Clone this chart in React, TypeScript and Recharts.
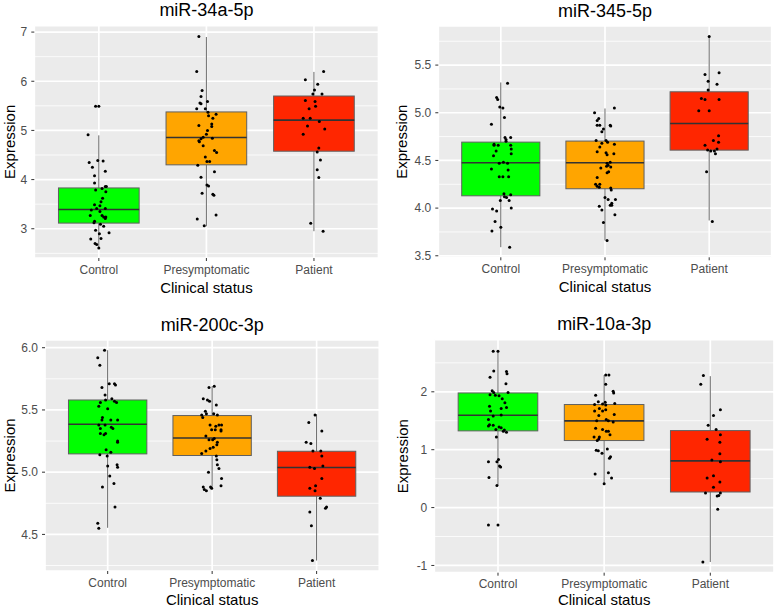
import React from 'react'
import { ComposedChart, Bar, Scatter, XAxis, YAxis, CartesianGrid } from 'recharts'

const categories = ['Control', 'Presymptomatic', 'Patient']
const boxFills = ['#00FF00', '#FFA500', '#FF2600']

// box stats per group: [lower whisker, Q1, median, Q3, upper whisker]
const mir34aBox = [
  [2.61, 3.115, 3.39, 3.83, 4.9],
  [3.05, 4.3, 4.855, 5.376, 6.9],
  [2.95, 4.577, 5.21, 5.7, 6.19],
]
const mir345Box = [
  [3.59, 4.129, 4.475, 4.692, 5.318],
  [3.661, 4.203, 4.475, 4.703, 5.045],
  [3.87, 4.608, 4.888, 5.22, 5.8],
]
const mir200cBox = [
  [4.553, 5.147, 5.385, 5.58, 5.98],
  [4.86, 5.134, 5.275, 5.455, 5.69],
  [4.29, 4.807, 5.037, 5.168, 5.465],
]
const mir10aBox = [
  [0.38, 1.325, 1.596, 1.98, 2.72],
  [0.41, 1.158, 1.498, 1.78, 2.29],
  [-0.94, 0.269, 0.806, 1.33, 2.27],
]

// jittered samples: [horizontal jitter (category units), expression]
const mir34aControl = [
  [-0.03, 5.49], [0, 5.49], [-0.1, 4.91], [-0.09, 4.35], [-0.01, 4.39], [0.04, 4.38], [-0.06, 4.25],
  [0.06, 4.17], [-0.04, 4.08], [-0.04, 3.93], [0.06, 3.86], [0.07, 3.86], [0.03, 3.82], [-0.03, 3.79],
  [0.065, 3.75], [0.035, 3.62], [0.02, 3.55], [-0.04, 3.49], [0.01, 3.47], [-0.02, 3.41], [0.06, 3.41],
  [-0.07, 3.38], [0.01, 3.35], [-0.08, 3.27], [0.03, 3.27], [0.045, 3.24], [0.065, 3.24], [0.06, 3.21],
  [-0.04, 3.15], [-0.045, 3.12], [0.015, 3.09], [0.045, 3.05], [-0.03, 2.97], [0.005, 2.9], [0.095, 2.92],
  [0.02, 2.8], [-0.075, 2.79], [-0.035, 2.7], [-0.02, 2.68], [0, 2.61],
]
const mir34aPresymptomatic = [
  [-0.07, 6.91], [-0.09, 6.2], [-0.04, 5.81], [-0.05, 5.69], [0.01, 5.59], [-0.06, 5.56], [-0.05, 5.54],
  [-0.09, 5.44], [-0.01, 5.44], [0.015, 5.37], [0.09, 5.33], [0.02, 5.3], [0.06, 5.25], [-0.07, 5.1],
  [0.05, 5.13], [0.05, 5.08], [0.01, 5.0], [0, 4.92], [-0.03, 4.86], [-0.05, 4.83], [0.055, 4.84],
  [-0.07, 4.79], [-0.065, 4.77], [-0.03, 4.69], [0.075, 4.59], [0.095, 4.55], [-0.01, 4.46], [0.005, 4.37],
  [0.03, 4.37], [-0.08, 4.29], [0.075, 4.16], [-0.05, 4.05], [0.005, 3.89], [0.02, 3.87], [-0.04, 3.72],
  [0.06, 3.7], [0.07, 3.68], [0.09, 3.28], [-0.085, 3.2], [-0.02, 3.06],
]
const mir34aPatient = [
  [0.09, 6.2], [-0.08, 6.03], [0.035, 5.94], [0.005, 5.82], [-0.01, 5.74], [0.075, 5.74], [-0.08, 5.61],
  [0.01, 5.59], [-0.045, 5.44], [0.015, 5.49], [-0.1, 5.25], [-0.035, 5.25], [0.05, 5.18], [0.1, 5.03],
  [-0.06, 5.09], [-0.1, 4.92], [0.045, 4.64], [0.03, 4.56], [0.06, 4.4], [0.03, 4.2], [0.045, 4.04],
  [-0.03, 3.11], [0.085, 2.95],
]

const mir345Control = [
  [0.065, 5.31], [-0.04, 5.16], [-0.03, 5.14], [-0.01, 5.06], [0.02, 5.05], [0.035, 4.95], [-0.09, 4.88],
  [0.04, 4.74], [0.05, 4.72], [0.095, 4.74], [0.05, 4.7], [-0.065, 4.67], [-0.065, 4.66], [-0.025, 4.66],
  [0.095, 4.66], [-0.045, 4.6], [0.1, 4.62], [0.1, 4.57], [-0.07, 4.55], [-0.015, 4.47], [0.025, 4.48],
  [0.065, 4.47], [-0.09, 4.41], [0.07, 4.4], [-0.015, 4.33], [0.02, 4.33], [0.075, 4.33], [0.03, 4.15],
  [0.095, 4.14], [0.035, 4.12], [0.055, 4.11], [0.08, 4.08], [-0.005, 4.08], [-0.08, 3.99], [-0.04, 3.97],
  [0.1, 4.0], [-0.055, 3.86], [0, 3.8], [-0.085, 3.76], [0.085, 3.59],
]
const mir345Presymptomatic = [
  [-0.1, 5.0], [0.09, 5.05], [-0.06, 4.94], [-0.075, 4.92], [-0.075, 4.87], [-0.05, 4.87], [0.05, 4.87],
  [0.055, 4.86], [-0.015, 4.83], [-0.03, 4.8], [-0.085, 4.71], [0.01, 4.71], [-0.03, 4.68], [0.025, 4.69],
  [0.09, 4.67], [-0.05, 4.64], [-0.075, 4.59], [0.01, 4.58], [0.085, 4.57], [0.02, 4.56], [0.05, 4.48],
  [0.02, 4.47], [0.03, 4.45], [0.015, 4.44], [-0.04, 4.42], [0.055, 4.43], [0.035, 4.38], [0.02, 4.37],
  [-0.075, 4.32], [-0.09, 4.25], [-0.075, 4.23], [-0.055, 4.22], [-0.05, 4.25], [0.055, 4.21], [0.06, 4.19],
  [0, 4.11], [0.03, 4.09], [0.1, 4.09], [0.065, 4.05], [0.05, 4.03], [0.065, 4.03], [-0.055, 4.02],
  [-0.03, 3.98], [0.095, 3.93], [-0.015, 3.85], [0.02, 3.66],
]
const mir345Patient = [
  [0, 5.8], [-0.04, 5.4], [0.095, 5.42], [-0.01, 5.33], [0.075, 5.3], [-0.01, 5.24], [-0.075, 5.15],
  [-0.04, 5.14], [0.095, 5.14], [-0.1, 5.02], [0, 5.02], [0.09, 4.76], [0.04, 4.71], [0.09, 4.69],
  [-0.04, 4.66], [-0.015, 4.61], [0.015, 4.6], [0.05, 4.6], [0.075, 4.62], [0.06, 4.57], [-0.025, 4.38],
  [0.03, 3.86],
]

const mir200cControl = [
  [-0.03, 5.98], [-0.095, 5.92], [-0.075, 5.86], [-0.055, 5.68], [0.015, 5.71], [0.065, 5.71], [0.075, 5.7],
  [-0.025, 5.62], [-0.07, 5.56], [-0.02, 5.58], [0.04, 5.59], [0.065, 5.57], [0.085, 5.56], [-0.085, 5.53],
  [0, 5.51], [-0.05, 5.44], [-0.055, 5.42], [0.03, 5.42], [0.095, 5.42], [-0.085, 5.38], [-0.025, 5.38],
  [-0.07, 5.35], [0.035, 5.36], [0.05, 5.35], [-0.07, 5.31], [-0.035, 5.3], [-0.02, 5.31], [0.095, 5.25],
  [0.095, 5.24], [-0.015, 5.18], [0.03, 5.16], [-0.005, 5.13], [-0.075, 5.14], [0, 5.05], [0.09, 5.06],
  [0.095, 5.04], [0.02, 4.97], [0.06, 4.91], [-0.05, 4.88], [0.07, 4.72], [-0.095, 4.59], [-0.085, 4.55],
]
const mir200cPresymptomatic = [
  [-0.03, 5.68], [0.02, 5.69], [-0.085, 5.59], [-0.045, 5.58], [-0.025, 5.57], [0.04, 5.54], [-0.065, 5.49],
  [-0.1, 5.46], [-0.055, 5.47], [0.015, 5.47], [0.05, 5.46], [-0.09, 5.44], [-0.02, 5.38], [0.065, 5.38],
  [0.09, 5.38], [0.035, 5.37], [-0.005, 5.34], [0.03, 5.34], [0.085, 5.34], [0.085, 5.33], [-0.06, 5.29],
  [0.02, 5.27], [0.005, 5.26], [-0.03, 5.26], [0.05, 5.24], [0.045, 5.22], [0.01, 5.2], [-0.02, 5.19],
  [-0.06, 5.17], [-0.1, 5.15], [0.04, 5.13], [0.045, 5.1], [0.05, 5.06], [0.065, 5.03], [-0.035, 5.0],
  [0.09, 4.95], [0.085, 4.89], [-0.085, 4.88], [-0.015, 4.88], [-0.005, 4.87], [-0.075, 4.86], [-0.055, 4.85],
]
const mir200cPatient = [
  [-0.015, 5.46], [-0.075, 5.4], [0.05, 5.33], [-0.1, 5.24], [-0.055, 5.23], [-0.035, 5.17], [0.04, 5.17],
  [0.05, 5.13], [-0.065, 5.04], [-0.02, 5.03], [0.06, 5.05], [0.05, 4.95], [-0.01, 4.89], [-0.065, 4.87],
  [-0.015, 4.85], [0.035, 4.79], [0.095, 4.72], [0.085, 4.71], [-0.065, 4.68], [-0.05, 4.57], [-0.04, 4.29],
]

const mir10aControl = [
  [-0.045, 2.7], [0, 2.7], [-0.04, 2.36], [0.08, 2.35], [0.085, 2.31], [-0.075, 2.25], [0.075, 2.14],
  [-0.055, 2.02], [-0.04, 1.99], [0.095, 1.99], [-0.075, 1.95], [-0.025, 1.94], [0.01, 1.93], [0.04, 1.88],
  [0.065, 1.81], [-0.08, 1.75], [0.08, 1.73], [0.03, 1.71], [-0.07, 1.67], [-0.045, 1.58], [0.03, 1.6],
  [-0.09, 1.52], [-0.08, 1.43], [-0.045, 1.42], [-0.09, 1.41], [0.01, 1.39], [0.03, 1.38], [-0.02, 1.35],
  [0.06, 1.34], [0.05, 1.32], [0.08, 1.3], [-0.015, 1.22], [-0.09, 0.79], [0.005, 0.83], [-0.01, 0.79],
  [0.015, 0.72], [0.025, 0.7], [-0.085, 0.52], [-0.01, 0.38], [-0.09, -0.3], [0, -0.3],
]
const mir10aPresymptomatic = [
  [0.015, 2.29], [0.045, 2.29], [0.015, 2.13], [0.085, 2.01], [0.09, 1.98], [-0.08, 1.94], [-0.055, 1.83],
  [-0.09, 1.78], [-0.015, 1.79], [0.01, 1.82], [0.015, 1.77], [0.1, 1.8], [-0.045, 1.71], [-0.015, 1.67],
  [0.015, 1.69], [-0.09, 1.67], [-0.05, 1.59], [0.095, 1.61], [0.02, 1.52], [0.04, 1.5], [0.085, 1.48],
  [-0.07, 1.5], [-0.08, 1.37], [-0.015, 1.35], [0.02, 1.32], [0.04, 1.32], [0.055, 1.26], [-0.095, 1.22],
  [-0.045, 1.22], [-0.065, 1.16], [-0.05, 1.19], [-0.075, 0.99], [-0.055, 0.98], [0.03, 1.01], [-0.02, 0.94],
  [0.06, 0.88], [0.05, 0.85], [-0.085, 0.58], [0.04, 0.6], [0.07, 0.51], [0, 0.41],
]
const mir10aPatient = [
  [-0.065, 2.28], [-0.09, 2.13], [0.095, 1.69], [0.03, 1.59], [-0.02, 1.42], [0.055, 1.35], [0.095, 1.26],
  [-0.03, 1.18], [0.09, 1.13], [0.09, 0.93], [0.015, 0.82], [0.095, 0.79], [0.03, 0.55], [-0.03, 0.51],
  [0.09, 0.44], [0.03, 0.35], [-0.045, 0.25], [0.095, 0.25], [0.08, 0.21], [0.065, 0.2], [0.07, -0.03],
  [-0.07, -0.94],
]

const panels = [
  {
    title: 'miR-34a-5p',
    box: mir34aBox,
    points: [mir34aControl, mir34aPresymptomatic, mir34aPatient],
    yDomain: [2.405, 7.13],
    yTicks: [3, 4, 5, 6, 7],
    yMinor: [2.5, 3.5, 4.5, 5.5, 6.5],
    digits: 0,
    frame: { x: 0, y: 0, w: 390, h: 305 },
    plot: { l: 34.3, r: 378.5, t: 25.7, b: 258 },
    yTitleX: 14.5,
  },
  {
    title: 'miR-345-5p',
    box: mir345Box,
    points: [mir345Control, mir345Presymptomatic, mir345Patient],
    yDomain: [3.484, 5.91],
    yTicks: [3.5, 4, 4.5, 5, 5.5],
    yMinor: [3.75, 4.25, 4.75, 5.25, 5.75],
    digits: 1,
    frame: { x: 390, y: 0, w: 386, h: 305 },
    plot: { l: 438.3, r: 771.7, t: 26, b: 257.3 },
    yTitleX: 406.5,
  },
  {
    title: 'miR-200c-3p',
    box: mir200cBox,
    points: [mir200cControl, mir200cPresymptomatic, mir200cPatient],
    yDomain: [4.206, 6.062],
    yTicks: [4.5, 5, 5.5, 6],
    yMinor: [4.25, 4.75, 5.25, 5.75],
    digits: 1,
    frame: { x: 0, y: 305, w: 390, h: 304 },
    plot: { l: 45, r: 379.3, t: 340, b: 571 },
    yTitleX: 14.5,
  },
  {
    title: 'miR-10a-3p',
    box: mir10aBox,
    points: [mir10aControl, mir10aPresymptomatic, mir10aPatient],
    yDomain: [-1.125, 2.9],
    yTicks: [-1, 0, 1, 2],
    yMinor: [-0.5, 0.5, 1.5, 2.5],
    digits: 0,
    frame: { x: 390, y: 305, w: 386, h: 304 },
    plot: { l: 434.3, r: 774, t: 339.7, b: 572.7 },
    yTitleX: 408,
  },
]

const FONT = '"Liberation Sans", Arial, Helvetica, sans-serif'
const Y_AXIS_W = 30
const X_AXIS_H = 25

// draws whisker, box and median inside the [low, high] range bar that recharts positions
function BoxShape(props: any) {
  const { x, y, width, height, payload, boxWidth } = props
  const top = Math.min(y, y + height)
  const bottom = Math.max(y, y + height)
  const span = payload.high - payload.low
  const toY = (v: number) => bottom - ((v - payload.low) / span) * (bottom - top)
  const cx = x + (width || 0) / 2
  const left = cx - boxWidth / 2
  const yq3 = toY(payload.q3)
  const yq1 = toY(payload.q1)
  const ymed = toY(payload.median)
  return (
    <g>
      <line x1={cx} x2={cx} y1={top} y2={bottom} stroke="#666" strokeWidth={1} />
      <rect x={left} y={yq3} width={boxWidth} height={yq1 - yq3} fill={payload.fill} stroke="#606060" strokeWidth={1} />
      <line x1={left} x2={left + boxWidth} y1={ymed} y2={ymed} stroke="#333" strokeWidth={1.6} />
    </g>
  )
}

const Dot = (props: any) => <circle cx={props.cx} cy={props.cy} r={1.5} fill="#000" />

function Panel({ p }: { p: (typeof panels)[number] }) {
  const { frame, plot } = p
  const boxData = categories.map((name, i) => ({
    x: i + 1,
    name,
    low: p.box[i][0],
    q1: p.box[i][1],
    median: p.box[i][2],
    q3: p.box[i][3],
    high: p.box[i][4],
    fill: boxFills[i],
  }))
  const pointData = p.points.flatMap((group, i) => group.map(([dx, v]) => ({ x: i + 1 + dx, y: v })))
  const boxWidth = (0.75 * (plot.r - plot.l)) / 3.2
  const margin = {
    top: plot.t - frame.y,
    left: plot.l - frame.x - Y_AXIS_W,
    right: frame.x + frame.w - plot.r,
    bottom: frame.y + frame.h - plot.b - X_AXIS_H,
  }
  return (
    <div style={{ position: 'absolute', left: frame.x, top: frame.y }}>
      <ComposedChart width={frame.w} height={frame.h} data={boxData} margin={margin}>
        <CartesianGrid fill="#EBEBEB" stroke="#fff" strokeWidth={1.7} />
        <CartesianGrid vertical={false} horizontalValues={p.yMinor} stroke="#fff" strokeWidth={0.8} />
        <XAxis
          dataKey="x"
          type="number"
          domain={[0.4, 3.6]}
          ticks={[1, 2, 3]}
          allowDataOverflow
          interval={0}
          height={X_AXIS_H}
          axisLine={false}
          tickLine={{ stroke: '#333' }}
          tickSize={3}
          tickMargin={4}
          tick={{ fill: '#4D4D4D', fontSize: 12, fontFamily: FONT }}
          tickFormatter={(v: number) => categories[v - 1]}
        />
        <YAxis
          type="number"
          domain={p.yDomain}
          ticks={p.yTicks}
          allowDataOverflow
          interval={0}
          width={Y_AXIS_W}
          axisLine={false}
          tickLine={{ stroke: '#333' }}
          tickSize={3}
          tickMargin={4}
          tick={{ fill: '#4D4D4D', fontSize: 12, fontFamily: FONT }}
          tickFormatter={(v: number) => v.toFixed(p.digits)}
        />
        <Bar
          dataKey={(d: any) => [d.low, d.high]}
          barSize={boxWidth}
          shape={(props: any) => <BoxShape {...props} boxWidth={boxWidth} />}
          isAnimationActive={false}
        />
        <Scatter data={pointData} dataKey="y" shape={Dot} isAnimationActive={false} />
      </ComposedChart>
    </div>
  )
}

export default function App() {
  return (
    <div
      style={{
        position: 'absolute',
        left: 0,
        top: 0,
        width: 776,
        height: 609,
        background: '#fff',
        fontFamily: FONT,
        overflow: 'hidden',
      }}
    >
      {panels.map((p) => (
        <Panel key={p.title} p={p} />
      ))}
      <svg width={776} height={609} style={{ position: 'absolute', left: 0, top: 0, pointerEvents: 'none' }}>
        {panels.map((p) => {
          const cx = (p.plot.l + p.plot.r) / 2
          const cy = (p.plot.t + p.plot.b) / 2
          return (
            <g key={p.title} fontFamily={FONT}>
              <text x={cx} y={p.plot.t - 9.5} textAnchor="middle" fontSize={18} fill="#000">
                {p.title}
              </text>
              <text x={cx} y={Math.min(p.plot.b + 34.5, 605)} textAnchor="middle" fontSize={15} fill="#000">
                Clinical status
              </text>
              <text
                transform={`translate(${p.yTitleX},${cy}) rotate(-90)`}
                textAnchor="middle"
                fontSize={15}
                fill="#000"
              >
                Expression
              </text>
            </g>
          )
        })}
      </svg>
    </div>
  )
}
